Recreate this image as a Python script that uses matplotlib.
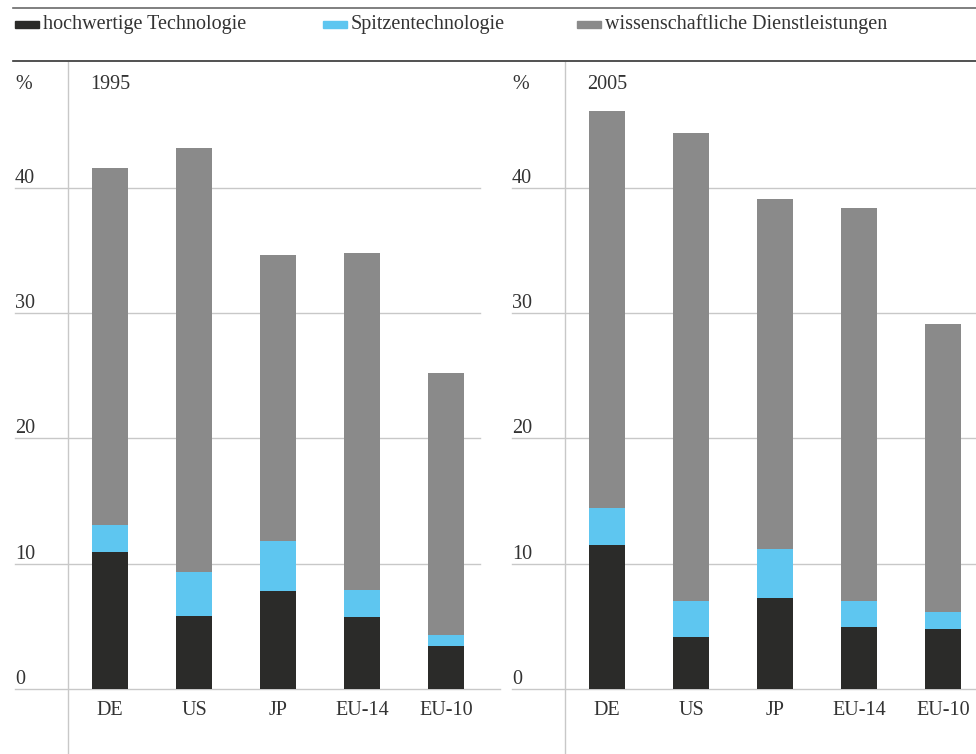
import numpy as np
import matplotlib.pyplot as plt
from matplotlib.patches import Rectangle
from matplotlib.lines import Line2D

plt.rcParams['font.family'] = ['Liberation Serif', 'DejaVu Serif']
plt.rcParams['font.size'] = 14.5

countries = ['DE', 'US', 'JP', 'EU-14', 'EU-10']
years = ['1995', '2005']
series = ['hochwertige Technologie', 'Spitzentechnologie', 'wissenschaftliche Dienstleistungen']
colors = ['#2b2b29', '#5ec6f0', '#8a8a8a']

# cumulative tops of each segment, in %
hightech_1995 = [10.9, 5.8, 7.8, 5.75, 3.45]
spitze_top_1995 = [13.1, 9.35, 11.8, 7.9, 4.3]
total_1995 = [41.6, 43.2, 34.6, 34.8, 25.2]

hightech_2005 = [11.5, 4.15, 7.3, 4.95, 4.75]
spitze_top_2005 = [14.45, 7.05, 11.2, 7.05, 6.15]
total_2005 = [46.1, 44.4, 39.1, 38.4, 29.1]

yticks = [0, 10, 20, 30, 40]

W, H = 976, 754
fig = plt.figure(figsize=(W / 100, H / 100), dpi=100)

grid_c = '#c8c8c8'
text_c = '#333333'


def px(x0, y0, x1, y1):
    # pixel box (top-left origin) -> figure fraction rect
    return [x0 / W, 1 - y1 / H, (x1 - x0) / W, (y1 - y0) / H]


def panel(rect, year, low, mid, top, zero_ext=1.0):
    ax = fig.add_axes(rect)
    x = np.arange(len(countries))
    low = np.array(low)
    mid = np.array(mid)
    top = np.array(top)
    ax.bar(x, low, width=0.43, color=colors[0], zorder=3)
    ax.bar(x, mid - low, bottom=low, width=0.43, color=colors[1], zorder=3)
    ax.bar(x, top - mid, bottom=mid, width=0.43, color=colors[2], zorder=3)
    ax.set_xlim(-1.131, 4.4)
    ax.set_ylim(0, 50.04)
    for s in ax.spines.values():
        s.set_visible(False)
    ax.set_xticks([])
    ax.set_yticks([])
    for v in yticks:
        ax.axhline(v, xmax=zero_ext if v == 0 else 1, color=grid_c, lw=1,
                   zorder=1, clip_on=False)
        ax.text(0.0, v + 0.4, str(v), transform=ax.get_yaxis_transform(),
                ha='left', va='baseline', color=text_c)
    ax.axvline(-0.5, ymin=-0.104, ymax=1, color=grid_c, lw=1, clip_on=False, zorder=1)
    for i, c in enumerate(countries):
        ax.text(i, -2.08, c, ha='center', va='baseline', color=text_c)
    ax.text(0.0, 47.9, '%', transform=ax.get_yaxis_transform(),
            ha='left', va='baseline', color=text_c)
    ax.text(-0.24, 47.9, year, ha='left', va='baseline', color=text_c)
    return ax


panel(px(15, 62, 480, 689), years[0], hightech_1995, spitze_top_1995, total_1995,
      zero_ext=485 / 465)
panel(px(512, 62, 977, 689), years[1], hightech_2005, spitze_top_2005, total_2005)

# legend band between two rules
fig.add_artist(Line2D([13 / W, 1], [1 - 8 / H, 1 - 8 / H], color='#6a6a6a', lw=1.2))
fig.add_artist(Line2D([13 / W, 1], [1 - 61 / H, 1 - 61 / H], color='#333333', lw=1.2))
leg_x = [15, 323, 577]
for lx, name, col in zip(leg_x, series, colors):
    fig.add_artist(Rectangle((lx / W, 1 - 27.5 / H), 24 / W, 6 / H,
                             transform=fig.transFigure, color=col))
    fig.text((lx + 28) / W, 1 - 29.5 / H, name, ha='left', va='baseline', color=text_c)

fig.savefig('out.png', dpi=100)
